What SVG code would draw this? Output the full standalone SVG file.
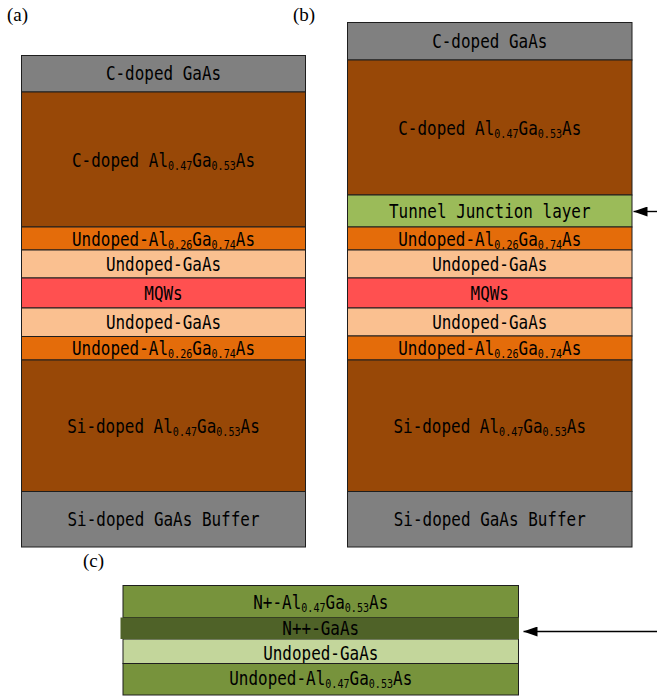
<svg xmlns="http://www.w3.org/2000/svg" width="657" height="698" viewBox="0 0 657 698">
<style>
rect.l{stroke:#1e1e1e;stroke-width:1}
.gray{fill:#808080}.brown{fill:#984807}.orange{fill:#E46C0A}.peach{fill:#FAC090}.red{fill:#FF5050}.tj{fill:#9BBB59}
.olive{fill:#77933C}.dark{fill:#4F6228}.light{fill:#C3D69B}
text.t{font-family:"DejaVu Sans Mono","Liberation Mono",monospace;font-size:19px;fill:#000;text-anchor:middle}
tspan.s{font-size:12px}
text.lab{font-family:"Liberation Serif","Times New Roman",serif;font-size:19px;fill:#000}
.conn{stroke:#000;stroke-width:1.4;fill:none}
</style>
<defs>
<marker id="ah" viewBox="0 0 14 10" refX="14" refY="5" markerWidth="14" markerHeight="10" markerUnits="userSpaceOnUse" orient="auto">
<path d="M0,0 L14,5 L0,10 z" fill="#000"/>
</marker>
</defs>

<text class="lab" x="7" y="21">(a)</text>
<text class="lab" x="293" y="21">(b)</text>
<text class="lab" x="83" y="567">(c)</text>

<g id="a">
<g id="a1"><rect class="l gray" x="21.5" y="55.5" width="284" height="36.5"/><text class="t" transform="translate(163.5,80) scale(0.84,1)">C-doped GaAs</text></g>
<g id="a2"><rect class="l brown" x="21.5" y="92" width="284" height="135"/><text class="t" transform="translate(163.5,166.5) scale(0.84,1)">C-doped Al<tspan class="s" dy="3">0.47</tspan><tspan dy="-3">Ga</tspan><tspan class="s" dy="3">0.53</tspan><tspan dy="-3">As</tspan></text></g>
<g id="a3"><rect class="l orange" x="21.5" y="227" width="284" height="23"/><text class="t" transform="translate(163.5,246) scale(0.84,1)">Undoped-Al<tspan class="s" dy="3">0.26</tspan><tspan dy="-3">Ga</tspan><tspan class="s" dy="3">0.74</tspan><tspan dy="-3">As</tspan></text></g>
<g id="a4"><rect class="l peach" x="21.5" y="250" width="284" height="28"/><text class="t" transform="translate(163.5,270.5) scale(0.84,1)">Undoped-GaAs</text></g>
<g id="a5"><rect class="l red" x="21.5" y="278" width="284" height="30"/><text class="t" transform="translate(163.5,300) scale(0.84,1)">MQWs</text></g>
<g id="a6"><rect class="l peach" x="21.5" y="308" width="284" height="28.5"/><text class="t" transform="translate(163.5,328.5) scale(0.84,1)">Undoped-GaAs</text></g>
<g id="a7"><rect class="l orange" x="21.5" y="336.5" width="284" height="23.5"/><text class="t" transform="translate(163.5,355) scale(0.84,1)">Undoped-Al<tspan class="s" dy="3">0.26</tspan><tspan dy="-3">Ga</tspan><tspan class="s" dy="3">0.74</tspan><tspan dy="-3">As</tspan></text></g>
<g id="a8"><rect class="l brown" x="21.5" y="360" width="284" height="131.5"/><text class="t" transform="translate(163.5,432.5) scale(0.84,1)">Si-doped Al<tspan class="s" dy="3">0.47</tspan><tspan dy="-3">Ga</tspan><tspan class="s" dy="3">0.53</tspan><tspan dy="-3">As</tspan></text></g>
<g id="a9"><rect class="l gray" x="21.5" y="491.5" width="284" height="55.5"/><text class="t" transform="translate(163.5,526) scale(0.84,1)">Si-doped GaAs Buffer</text></g>
</g>

<g id="b">
<g id="b1"><rect class="l gray" x="347.5" y="22.5" width="284.5" height="37.5"/><text class="t" transform="translate(489.75,48) scale(0.84,1)">C-doped GaAs</text></g>
<g id="b2"><rect class="l brown" x="347.5" y="60" width="284.5" height="135"/><text class="t" transform="translate(489.75,134.5) scale(0.84,1)">C-doped Al<tspan class="s" dy="3">0.47</tspan><tspan dy="-3">Ga</tspan><tspan class="s" dy="3">0.53</tspan><tspan dy="-3">As</tspan></text></g>
<g id="b3"><rect class="l tj" x="347.5" y="195" width="284.5" height="32"/><text class="t" transform="translate(489.75,218) scale(0.84,1)">Tunnel Junction layer</text></g>
<g id="b4"><rect class="l orange" x="347.5" y="227" width="284.5" height="23"/><text class="t" transform="translate(489.75,246) scale(0.84,1)">Undoped-Al<tspan class="s" dy="3">0.26</tspan><tspan dy="-3">Ga</tspan><tspan class="s" dy="3">0.74</tspan><tspan dy="-3">As</tspan></text></g>
<g id="b5"><rect class="l peach" x="347.5" y="250" width="284.5" height="28"/><text class="t" transform="translate(489.75,270.5) scale(0.84,1)">Undoped-GaAs</text></g>
<g id="b6"><rect class="l red" x="347.5" y="278" width="284.5" height="30"/><text class="t" transform="translate(489.75,300) scale(0.84,1)">MQWs</text></g>
<g id="b7"><rect class="l peach" x="347.5" y="308" width="284.5" height="28"/><text class="t" transform="translate(489.75,328.5) scale(0.84,1)">Undoped-GaAs</text></g>
<g id="b8"><rect class="l orange" x="347.5" y="336" width="284.5" height="24"/><text class="t" transform="translate(489.75,355) scale(0.84,1)">Undoped-Al<tspan class="s" dy="3">0.26</tspan><tspan dy="-3">Ga</tspan><tspan class="s" dy="3">0.74</tspan><tspan dy="-3">As</tspan></text></g>
<g id="b9"><rect class="l brown" x="347.5" y="360" width="284.5" height="131.5"/><text class="t" transform="translate(489.75,432.5) scale(0.84,1)">Si-doped Al<tspan class="s" dy="3">0.47</tspan><tspan dy="-3">Ga</tspan><tspan class="s" dy="3">0.53</tspan><tspan dy="-3">As</tspan></text></g>
<g id="b10"><rect class="l gray" x="347.5" y="491.5" width="284.5" height="55.5"/><text class="t" transform="translate(489.75,526) scale(0.84,1)">Si-doped GaAs Buffer</text></g>
</g>

<g id="c">
<g id="c1"><rect class="l olive" x="123" y="585.5" width="395.5" height="32"/><text class="t" transform="translate(320.75,609) scale(0.84,1)">N+-Al<tspan class="s" dy="3">0.47</tspan><tspan dy="-3">Ga</tspan><tspan class="s" dy="3">0.53</tspan><tspan dy="-3">As</tspan></text></g>
<g id="c3"><rect class="l light" x="123" y="639" width="395.5" height="24.5"/><text class="t" transform="translate(320.75,659.5) scale(0.84,1)">Undoped-GaAs</text></g>
<g id="c4"><rect class="l olive" x="123" y="663.5" width="395.5" height="31.5"/><text class="t" transform="translate(320.75,685) scale(0.84,1)">Undoped-Al<tspan class="s" dy="3">0.47</tspan><tspan dy="-3">Ga</tspan><tspan class="s" dy="3">0.53</tspan><tspan dy="-3">As</tspan></text></g>
<g id="c2"><rect class="dark" x="120.5" y="617.5" width="398.5" height="21.5"/><text class="t" transform="translate(320.75,635) scale(0.84,1)">N++-GaAs</text></g>
</g>

<g id="connectors">
<line class="conn" x1="657" y1="211.5" x2="633.5" y2="211.5" marker-end="url(#ah)"/>
<line class="conn" x1="657" y1="631.5" x2="523.5" y2="631.5" marker-end="url(#ah)"/>
</g>
</svg>
